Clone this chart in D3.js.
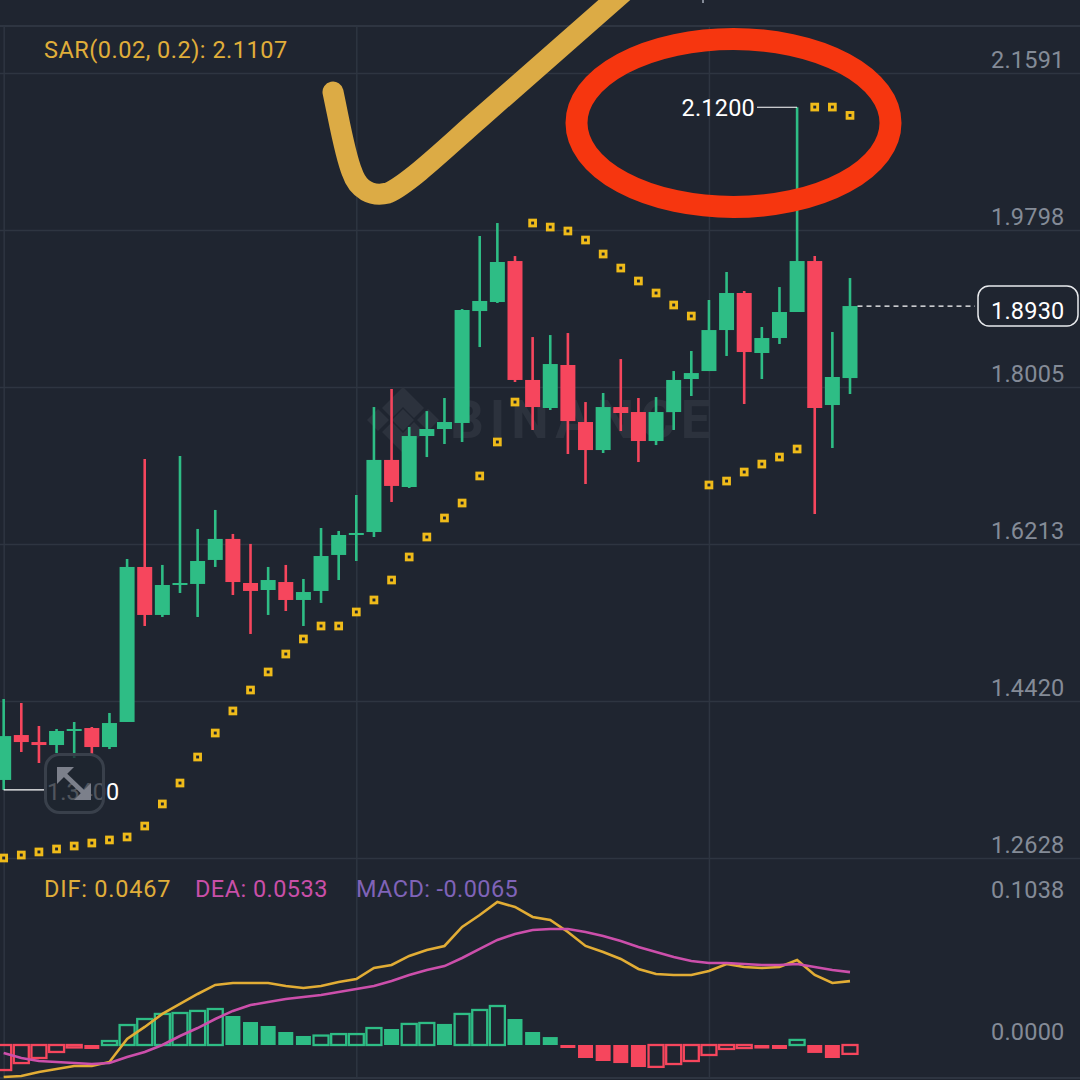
<!DOCTYPE html>
<html>
<head>
<meta charset="utf-8">
<script src="https://cdn.jsdelivr.net/npm/d3@7"></script>
<style>
  html, body { margin: 0; padding: 0; background: #1f2530; }
  text { font-family: Roboto, sans-serif; }
</style>
</head>
<body>
<div id="chart"></div>
<script>
// candles
var opens = [1.3519,1.4032,1.3952,1.3918,1.4078,1.4112,1.3895,1.4181,1.5951,1.5403,1.5745,1.5757,1.6031,1.6271,1.5768,1.5688,1.5779,1.5574,1.5677,1.6088,1.6316,1.6350,1.7173,1.6864,1.7446,1.7526,1.7595,1.8873,1.8976,1.9444,1.8086,1.7766,1.8257,1.7606,1.7286,1.7777,1.7720,1.7389,1.7720,1.8097,1.8188,1.8656,1.9079,1.8394,1.8565,1.8862,1.9444,1.7800,1.8108];
var highs = [1.4443,1.4398,1.4135,1.4101,1.4181,1.4124,1.4284,1.6042,1.7184,1.5974,1.7218,1.6385,1.6602,1.6328,1.6214,1.5951,1.5974,1.5814,1.6396,1.6362,1.6773,1.7777,1.7983,1.7549,1.7731,1.7880,1.8896,1.9730,1.9878,1.9501,1.8576,1.8599,1.8622,1.7834,1.7937,1.8325,1.7880,1.7891,1.8188,1.8417,1.8999,1.9319,1.9102,1.8691,1.9147,2.1200,1.9501,1.8634,1.9250];
var lows = [1.3405,1.3838,1.3713,1.3827,1.3770,1.3815,1.3872,1.4181,1.5277,1.5380,1.5654,1.5380,1.5951,1.5631,1.5186,1.5403,1.5448,1.5277,1.5540,1.5802,1.6019,1.6293,1.6693,1.6853,1.7206,1.7355,1.7378,1.8462,1.8965,1.8063,1.7515,1.7743,1.7241,1.6898,1.7252,1.7503,1.7149,1.7343,1.7515,1.7903,1.8188,1.8360,1.7812,1.8097,1.8497,1.8862,1.6556,1.7309,1.7926];
var closes = [1.4020,1.3952,1.3918,1.4078,1.4101,1.3895,1.4169,1.5951,1.5403,1.5745,1.5768,1.6019,1.6271,1.5779,1.5677,1.5802,1.5574,1.5665,1.6076,1.6316,1.6339,1.7173,1.6876,1.7446,1.7526,1.7606,1.8885,1.8988,1.9433,1.8086,1.7777,1.8268,1.7617,1.7286,1.7777,1.7709,1.7389,1.7720,1.8086,1.8165,1.8656,1.9079,1.8405,1.8565,1.8862,1.9444,1.7766,1.8120,1.8930];

// parabolic SAR
var sar = [1.2628,1.2662,1.2697,1.2731,1.2765,1.2799,1.2834,1.2868,1.2993,1.3245,1.3484,1.3781,1.4055,1.4307,1.4546,1.4752,1.4957,1.5129,1.5277,1.5277,1.5437,1.5574,1.5802,1.6065,1.6293,1.6510,1.6681,1.6990,1.7378,1.7834,1.9878,1.9832,1.9787,1.9684,1.9524,1.9364,1.9216,1.9079,1.8942,1.8816,1.6887,1.6932,1.7035,1.7126,1.7206,1.7298,2.1202,2.1202,2.1107];

// MACD pane
var dif = [-0.0234,-0.0227,-0.0197,-0.0175,-0.0154,-0.0154,-0.0124,0.0044,0.0132,0.0227,0.0300,0.0373,0.0439,0.0453,0.0453,0.0453,0.0431,0.0417,0.0431,0.0461,0.0482,0.0563,0.0585,0.0651,0.0694,0.0724,0.0863,0.0950,0.1045,0.1009,0.0936,0.0914,0.0826,0.0724,0.0680,0.0629,0.0556,0.0519,0.0512,0.0512,0.0541,0.0592,0.0570,0.0563,0.0570,0.0621,0.0512,0.0453,0.0467];
var dea = [-0.0058,-0.0095,-0.0117,-0.0124,-0.0132,-0.0139,-0.0132,-0.0088,-0.0051,0.0000,0.0066,0.0124,0.0190,0.0249,0.0292,0.0314,0.0336,0.0351,0.0366,0.0387,0.0409,0.0431,0.0468,0.0512,0.0548,0.0577,0.0636,0.0702,0.0768,0.0811,0.0841,0.0848,0.0848,0.0826,0.0797,0.0760,0.0716,0.0680,0.0643,0.0614,0.0599,0.0599,0.0592,0.0585,0.0585,0.0592,0.0570,0.0548,0.0533];
var macd = [-0.0183,-0.0132,-0.0095,-0.0051,-0.0018,-0.0029,0.0029,0.0146,0.0190,0.0227,0.0234,0.0249,0.0263,0.0212,0.0168,0.0139,0.0095,0.0066,0.0069,0.0080,0.0080,0.0124,0.0117,0.0154,0.0161,0.0154,0.0227,0.0256,0.0285,0.0190,0.0095,0.0058,-0.0022,-0.0095,-0.0117,-0.0132,-0.0161,-0.0160,-0.0139,-0.0117,-0.0073,-0.0029,-0.0022,-0.0026,-0.0029,0.0037,-0.0058,-0.0095,-0.0065];

var priceTicks = [2.1591, 1.9798, 1.8005, 1.6213, 1.4420, 1.2628];
var macdTicks = [0.1038, 0];
var timeTicks = [0, 20, 40];

var bg = "#1f2530", gridColor = "#2e3541", upColor = "#2ebd85", downColor = "#f6465d",
    sarColor = "#efbb1a", labelColor = "#848b97";

var width = 1080, height = 1080;

var svg = d3.select("#chart")
  .append("svg")
    .attr("width", width)
    .attr("height", height)
    .style("display", "block");

svg.append("rect").attr("width", width).attr("height", height).attr("fill", bg);

var x = d3.scaleLinear().domain([0, 48]).range([3.67, 850]);
var y = d3.scaleLinear().domain([1.2628, 2.1591]).range([858, 73]);
var yMacd = d3.scaleLinear().domain([0, 0.1038]).range([1045, 903]);

// grid: top and bottom rules, time lines
svg.append("line").attr("x1", 0).attr("x2", width).attr("y1", 26).attr("y2", 26)
  .attr("stroke", gridColor).attr("stroke-width", 2);
svg.append("line").attr("x1", 0).attr("x2", width).attr("y1", 1078).attr("y2", 1078)
  .attr("stroke", gridColor).attr("stroke-width", 2);

var xAxis = svg.append("g")
  .attr("transform", "translate(0,26)")
  .call(d3.axisBottom(x).tickValues(timeTicks).tickSize(1052).tickFormat(""));
xAxis.select(".domain").remove();
xAxis.selectAll("line").attr("stroke", gridColor).attr("stroke-width", 1.5);

// price axis, labels sit above their lines
var yAxis = svg.append("g")
  .call(d3.axisRight(y).tickValues(priceTicks).tickSize(width).tickFormat(d3.format(".4f")));
yAxis.select(".domain").remove();
yAxis.selectAll("line").attr("stroke", gridColor).attr("stroke-width", 1.5);
yAxis.selectAll("text")
  .attr("x", 1064.5).attr("y", -14).attr("dy", "0.35em")
  .attr("text-anchor", "end")
  .attr("fill", labelColor)
  .style("font-size", "23.5px")
  .style("letter-spacing", "0.2px");

var yAxisMacd = svg.append("g")
  .call(d3.axisRight(yMacd).tickValues(macdTicks).tickSize(0).tickFormat(d3.format(".4f")));
yAxisMacd.select(".domain").remove();
yAxisMacd.selectAll("text")
  .attr("x", 1064.5).attr("y", -14).attr("dy", "0.35em")
  .attr("text-anchor", "end")
  .attr("fill", labelColor)
  .style("font-size", "23.5px")
  .style("letter-spacing", "0.2px");

// watermark
var wm = svg.append("g").attr("fill", "#2c323d");
wm.append("text")
  .attr("x", 450).attr("y", 438)
  .style("font-size", "53px").style("font-weight", 700).style("letter-spacing", "6px")
  .text("BINANCE");
wm.selectAll("path")
  .data([
    "M403,387 L424,408 L414,418 L403,407 L392,418 L382,408 Z",
    "M403,453 L424,432 L414,422 L403,433 L392,422 L382,432 Z",
    "M403,409 L414,420 L403,431 L392,420 Z",
    "M378,409 L389,420 L378,431 L367,420 Z",
    "M428,409 L439,420 L428,431 L417,420 Z"
  ])
  .enter()
  .append("path")
    .attr("d", function(d) { return d; });

var idx = d3.range(opens.length);
function isUp(i) { return closes[i] >= opens[i]; }

// wicks
svg.selectAll("line.wick")
  .data(idx)
  .enter()
  .append("line")
    .attr("class", "wick")
    .attr("x1", function(i) { return x(i); })
    .attr("x2", function(i) { return x(i); })
    .attr("y1", function(i) { return y(highs[i]); })
    .attr("y2", function(i) { return y(lows[i]); })
    .attr("stroke", function(i) { return isUp(i) ? upColor : downColor; })
    .attr("stroke-width", 2.6);

// bodies
svg.selectAll("rect.body")
  .data(idx)
  .enter()
  .append("rect")
    .attr("class", "body")
    .attr("x", function(i) { return x(i) - 7.5; })
    .attr("y", function(i) { return y(Math.max(opens[i], closes[i])); })
    .attr("width", 15)
    .attr("height", function(i) { return Math.abs(y(opens[i]) - y(closes[i])); })
    .attr("fill", function(i) { return isUp(i) ? upColor : downColor; });

// SAR dots
svg.selectAll("rect.sar")
  .data(idx)
  .enter()
  .append("rect")
    .attr("class", "sar")
    .attr("x", function(i) { return x(i) - 2.9; })
    .attr("y", function(i) { return y(sar[i]) - 2.9; })
    .attr("width", 5.8)
    .attr("height", 5.8)
    .attr("fill", bg)
    .attr("stroke", sarColor)
    .attr("stroke-width", 2.9);

// MACD histogram, hollow when the bar moves up from the one before
function isHollow(i) { return i === 0 || macd[i] >= macd[i - 1]; }
svg.selectAll("rect.hist")
  .data(idx)
  .enter()
  .append("rect")
    .attr("class", "hist")
    .attr("x", function(i) { return x(i) - 7.5; })
    .attr("y", function(i) { return yMacd(Math.max(macd[i], 0)); })
    .attr("width", 15)
    .attr("height", function(i) { return Math.abs(yMacd(macd[i]) - yMacd(0)); })
    .attr("fill", function(i) {
      if (isHollow(i)) return "none";
      return macd[i] >= 0 ? upColor : downColor;
    })
    .attr("stroke", function(i) {
      if (!isHollow(i)) return "none";
      return macd[i] >= 0 ? upColor : downColor;
    })
    .attr("stroke-width", 2.3);

var lineDif = d3.line().x(function(d, i) { return x(i); }).y(function(d) { return yMacd(d); });
svg.append("path").datum(dif)
  .attr("d", lineDif).attr("fill", "none").attr("stroke", "#e2ad35").attr("stroke-width", 2.6);
svg.append("path").datum(dea)
  .attr("d", lineDif).attr("fill", "none").attr("stroke", "#cc4fab").attr("stroke-width", 2.6);

// legends
function legend(px, py, color, str, spacing) {
  svg.append("text").attr("x", px).attr("y", py).attr("fill", color)
    .style("font-size", "23.5px").style("letter-spacing", spacing + "px").text(str);
}
legend(44, 58, "#e0ae3a", "SAR(0.02, 0.2): 2.1107", 0.5);
legend(44, 897, "#e0ae3a", "DIF: 0.0467", 0.8);
legend(195, 897, "#c94fa8", "DEA: 0.0533", 0.45);
legend(356, 897, "#7f63b8", "MACD: -0.0065", 0.4);

// high and low callouts
svg.append("line").attr("x1", 757).attr("x2", x(45)).attr("y1", y(2.12)).attr("y2", y(2.12))
  .attr("stroke", "#fff").attr("stroke-width", 1.2);
svg.append("text").attr("x", 755).attr("y", y(2.12) + 9).attr("text-anchor", "end")
  .attr("fill", "#fff").style("font-size", "23.5px").style("letter-spacing", "0.2px").text("2.1200");
svg.append("line").attr("x1", x(0)).attr("x2", 46).attr("y1", y(lows[0])).attr("y2", y(lows[0]))
  .attr("stroke", "#fff").attr("stroke-width", 1.2);
svg.append("text").attr("x", 47).attr("y", y(lows[0]) + 10)
  .attr("fill", "#fff").style("font-size", "23.5px").text("1.3400");

// last price
svg.append("line").attr("x1", x(48) + 7.5).attr("x2", 975).attr("y1", y(1.893)).attr("y2", y(1.893))
  .attr("stroke", "#fff").attr("stroke-width", 1.3).attr("stroke-dasharray", "5 4");
svg.append("rect").attr("x", 978).attr("y", 286).attr("width", 100).attr("height", 40).attr("rx", 11)
  .attr("fill", bg).attr("stroke", "#e8eaed").attr("stroke-width", 1.5);
svg.append("text").attr("x", 1064.5).attr("y", 319).attr("text-anchor", "end")
  .attr("fill", "#fff").style("font-size", "23.5px").style("letter-spacing", "0.2px").text("1.8930");

// expand button sits over the low label
svg.append("rect").attr("x", 45.5).attr("y", 754.5).attr("width", 58).attr("height", 58).attr("rx", 14)
  .attr("fill", bg).attr("fill-opacity", 0.78).attr("stroke", "#39404b").attr("stroke-width", 3);
svg.append("path")
  .attr("d", "M57,767 L74,767 L57,784 Z M91,800 L74,800 L91,783 Z")
  .attr("fill", "#7c808b");
svg.append("path")
  .attr("d", "M63,773 L85,794")
  .attr("stroke", "#7c808b").attr("stroke-width", 4.5).attr("fill", "none");

// hand drawn marks
svg.append("ellipse")
  .attr("cx", 733.5).attr("cy", 123).attr("rx", 157).attr("ry", 84)
  .attr("fill", "none").attr("stroke", "#f6360f").attr("stroke-width", 22);
svg.append("path")
  .attr("d", "M333,92 C340,125 345,155 352,172 C358,190 372,197 388,193 C410,183 450,144 480,118 L628,-12")
  .attr("fill", "none").attr("stroke", "#dcab45").attr("stroke-width", 21)
  .attr("stroke-linecap", "round").attr("stroke-linejoin", "round");

// clipped bit of the header above the chart
svg.append("line").attr("x1", 703).attr("x2", 703).attr("y1", 0).attr("y2", 3)
  .attr("stroke", "#848b97").attr("stroke-width", 2);
</script>
</body>
</html>
